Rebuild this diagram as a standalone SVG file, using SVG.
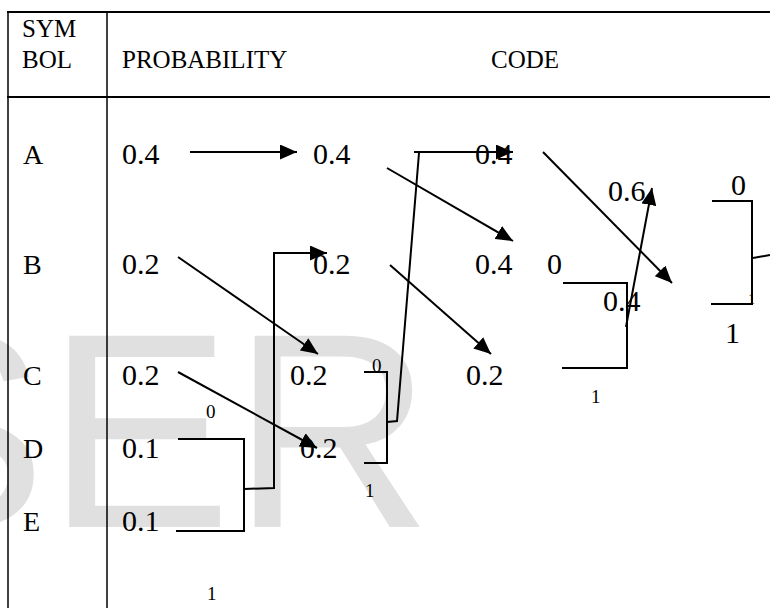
<svg xmlns="http://www.w3.org/2000/svg" width="770" height="608" viewBox="0 0 770 608">
<style>
.t{font-family:'Liberation Serif','Times New Roman',Times,serif;fill:#000}
.h{font-size:25px}
.r{font-size:28px}
.n{font-size:30px}
.s{font-size:19px}
.wm{font-family:'Liberation Sans',Arial,sans-serif;font-size:278px;fill:#e0e0e0}
.grid{stroke:#000;fill:none}
.c{stroke:#000;stroke-width:2;fill:none}
</style>
<defs>
<marker id="ah" viewBox="0 0 17 15" refX="17" refY="7.5" markerWidth="17" markerHeight="15" markerUnits="userSpaceOnUse" orient="auto">
<path d="M0,0 L17,7.5 L0,15 z" fill="#000"/>
</marker>
</defs>
<rect width="770" height="608" fill="#fff"/>
<text class="wm" x="-139" y="527">SER</text>
<g id="table">
<line class="grid" x1="7" y1="12" x2="770" y2="12" stroke-width="2"/>
<line class="grid" x1="7" y1="97" x2="770" y2="97" stroke-width="2"/>
<line class="grid" x1="8" y1="11" x2="8" y2="608" stroke-width="1.5"/>
<line class="grid" x1="107" y1="11" x2="107" y2="608" stroke-width="1.5"/>
</g>
<g font-family="Liberation Serif, Times New Roman, serif">
<g id="header">
<text class="t h" x="22" y="37">SYM</text>
<text class="t h" x="22" y="68">BOL</text>
<text class="t h" x="122" y="68">PROBABILITY</text>
<text class="t h" x="491" y="68">CODE</text>
</g>
<g id="symbols">
<text class="t r" x="23" y="164">A</text>
<text class="t r" x="23" y="274">B</text>
<text class="t r" x="23" y="385">C</text>
<text class="t r" x="23" y="458">D</text>
<text class="t r" x="23" y="531">E</text>
</g>
<g id="col1">
<g id="c1A"><text class="t n" x="122" y="164">0.4</text></g>
<g id="c1B"><text class="t n" x="122" y="274">0.2</text></g>
<g id="c1C"><text class="t n" x="122" y="385">0.2</text></g>
<g id="c1D"><text class="t n" x="122" y="458">0.1</text></g>
<g id="c1E"><text class="t n" x="122" y="531">0.1</text></g>
</g>
<g id="col2">
<g id="c2A"><text class="t n" x="313" y="164">0.4</text></g>
<g id="c2B"><text class="t n" x="313" y="274">0.2</text></g>
<g id="c2C"><text class="t n" x="290" y="385">0.2</text></g>
<g id="c2D"><text class="t n" x="300" y="458">0.2</text></g>
</g>
<g id="col3">
<g id="c3A"><text class="t n" x="475" y="164">0.4</text></g>
<g id="c3B"><text class="t n" x="475" y="274">0.4</text></g>
<g id="c3C"><text class="t n" x="466" y="385">0.2</text></g>
</g>
<g id="col4">
<g id="c4A"><text class="t n" x="608" y="201">0.6</text></g>
<g id="c4B"><text class="t n" x="603" y="311">0.4</text></g>
</g>
<g id="bitlabels">
<text class="t s" x="206" y="418">0</text>
<text class="t s" x="207" y="600">1</text>
<text class="t s" x="372" y="372">0</text>
<text class="t s" x="365" y="497">1</text>
<text class="t n" x="547" y="274">0</text>
<text class="t s" x="591" y="403">1</text>
<text class="t n" x="731" y="195">0</text>
<text class="t n" x="725" y="343">1</text>
<text class="t" style="font-size:14px" x="748" y="304">1</text>
</g>
</g>
<g id="connectors">
<line class="c" x1="190" y1="152" x2="297" y2="152" marker-end="url(#ah)"/>
<line class="c" x1="387" y1="168" x2="513" y2="241" marker-end="url(#ah)"/>
<line class="c" x1="543" y1="152" x2="672" y2="283" marker-end="url(#ah)"/>
<line class="c" x1="178" y1="257" x2="318" y2="354" marker-end="url(#ah)"/>
<line class="c" x1="390" y1="265" x2="491" y2="354" marker-end="url(#ah)"/>
<line class="c" x1="178" y1="372" x2="317" y2="448" marker-end="url(#ah)"/>
<polyline class="c" points="178,439 244,439 244,531 176,531"/>
<path class="c" d="M244,489 L274,488 L274,253 L327,253" marker-end="url(#ah)"/>
<polyline class="c" points="364,372 387,372 387,463 364,463"/>
<path class="c" d="M387,422 L397,421 L419,153 M414,152 L513,152" marker-end="url(#ah)"/>
<polyline class="c" points="563,283 627,283 627,368 562,368"/>
<line class="c" x1="626" y1="327" x2="652" y2="188" marker-end="url(#ah)"/>
<polyline class="c" points="712,201 752,201 752,304 711,304"/>
<line class="c" x1="753" y1="258" x2="770" y2="255"/>
</g>
</svg>
